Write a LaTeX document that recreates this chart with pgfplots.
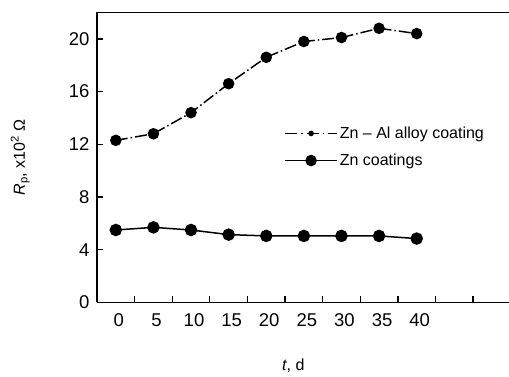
\documentclass[border=0pt]{standalone}
\usepackage{fontspec}
\setmainfont{Liberation Sans}
\usepackage{pgfplots}
\pgfplotsset{compat=1.18}
\begin{document}
\begin{tikzpicture}
\begin{axis}[
  at={(0,0)}, anchor=south west,
  scale only axis, width=425pt, height=290pt,
  xmin=-2.5, xmax=54.0, ymin=0, ymax=22,
  axis x line*=bottom, axis y line*=left,
  axis line style={line width=1.6pt},
  xtick pos=bottom, ytick pos=left,
  tick align=inside,
  xtick={2.5,7.5,...,47.5}, xticklabels={},
  extra x ticks={0,5,...,40},
  extra x tick style={major tick length=0pt, xticklabel style={xshift=3pt}},
  extra x tick labels={0,5,10,15,20,25,30,35,40},
  ytick={0,4,...,20},
  major tick length=6pt,
  tick style={line width=1.3pt, black},
  tick label style={font=\fontsize{18.5}{22}\selectfont},
  /pgf/number format/assume math mode=true,
  xticklabel style={yshift=-8pt},
  yticklabel style={xshift=-4pt},
  label style={font=\fontsize{16}{19}\selectfont},
  xlabel={\textit{t}, d},
  xlabel style={at={(axis cs:23.6,-4.8)}, anchor=center},
  ylabel={\textit{R}\textsubscript{p}, x10\textsuperscript{2} Ω},
  ylabel style={at={(axis cs:-12.7,11)}, anchor=center},
  legend style={draw=none, fill=none, at={(axis cs:21.98,13.64)}, anchor=north west,
    row sep=10pt, font=\fontsize{16}{19}\selectfont},
  legend cell align=left,
]
\addplot[black, line width=1.5pt, dash pattern=on 12pt off 3pt on 1.5pt off 3pt,
  mark=*, mark size=5pt, mark options={solid},
  legend image code/.code={\draw[black, line width=1.5pt, dash pattern=on 12pt off 4pt on 1.5pt off 4pt] (0pt,0pt) -- (52pt,0pt); \fill[black] (26pt,0pt) circle (2pt);}]
  coordinates {(0,12.3) (5,12.8) (10,14.4) (15,16.6) (20,18.6) (25,19.8) (30,20.1) (35,20.8) (40,20.4)};
\addlegendentry{Zn -- Al alloy coating}
\addplot[black, line width=1.5pt, mark=*, mark size=5.5pt,
  legend image code/.code={\draw[black, line width=1.5pt] (0pt,0pt) -- (52pt,0pt); \fill[black] (26pt,0pt) circle (5pt);}]
  coordinates {(0,5.5) (5,5.7) (10,5.5) (15,5.15) (20,5.05) (25,5.05) (30,5.05) (35,5.05) (40,4.85)};
\addlegendentry{Zn coatings}
\draw[line width=1.6pt] (rel axis cs:0,1) -- (rel axis cs:1,1);
\end{axis}
\pgfresetboundingbox
\path (-97pt,-74pt) rectangle (412pt,302.5pt);
\end{tikzpicture}
\end{document}
